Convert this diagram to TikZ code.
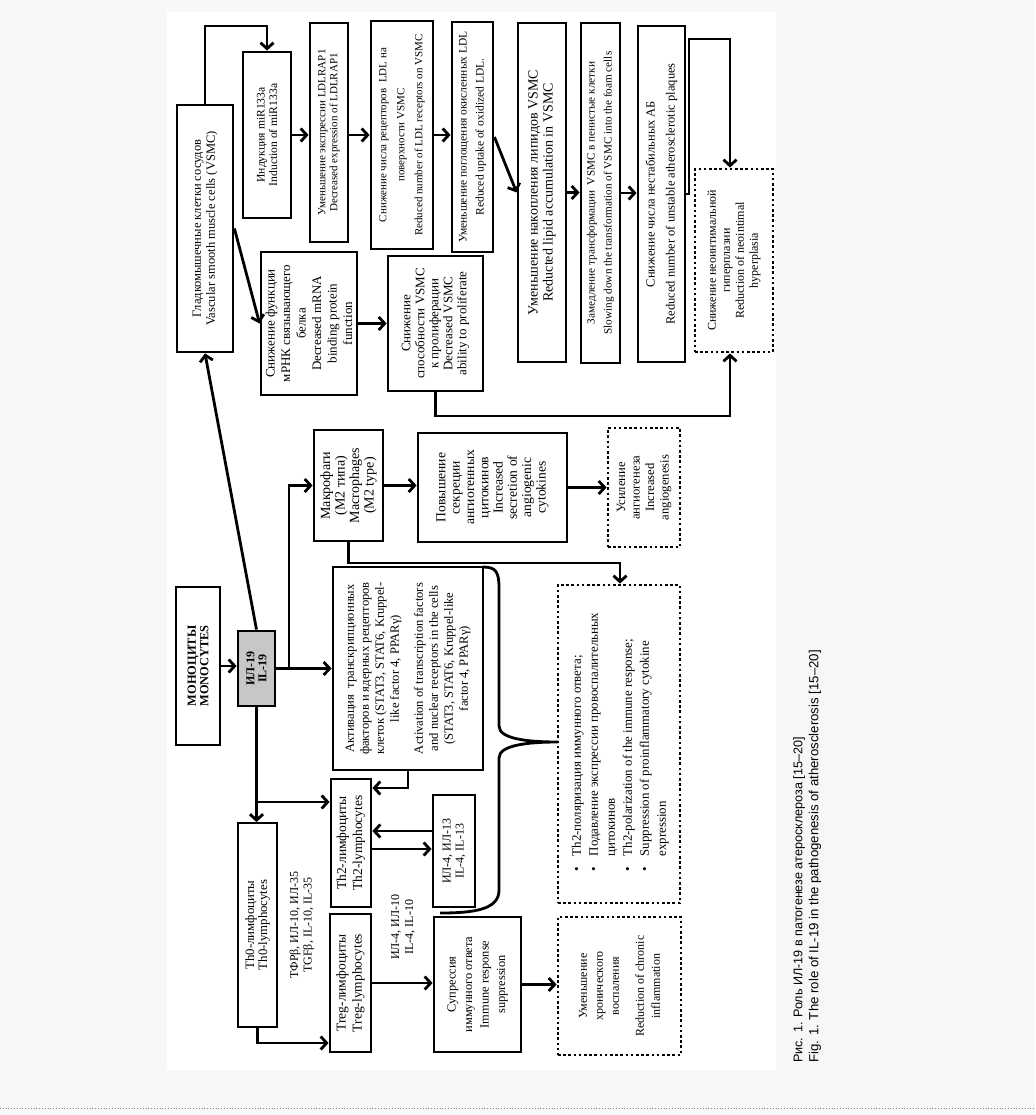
\documentclass[tikz,border=0pt]{standalone}
\usepackage{fontspec}
\setmainfont{Liberation Serif}
\newfontfamily\capfont{Liberation Sans}
\usetikzlibrary{arrows.meta,calc}
\newcommand\fs[2]{\fontsize{#1}{#2}\selectfont}
\newcommand\mkbox[6]{\node[#1,minimum width={(#5)-(#3)},minimum height={(#6)-(#4)}] (#2) at ({((#3)+(#5))/2},{((#4)+(#6))/2}) {};}
\begin{document}
\begin{tikzpicture}[x=1pt,y=-1pt,
  box/.style={draw,line width=2.8pt,rectangle,inner sep=0pt},
  tbox/.style={draw,line width=1.8pt,rectangle,inner sep=0pt},
  dbox/.style={draw,line width=2.8pt,dash pattern=on 2.6pt off 2.6pt,rectangle,inner sep=0pt},
  gbox/.style={box,fill=black!22},
  txt/.style={rotate=90,align=center,inner sep=0pt},
  arr/.style={line width=2.8pt,-{Straight Barb[length=6pt,width=13pt]}},
  ln/.style={line width=2.8pt},
]
\useasboundingbox (0,0) rectangle (1035,1115);
\fill[black!3] (0,0) rectangle (1035,1115);
\fill[white] (167,12) rectangle (776,1070);
\draw[black!50,line width=0.8pt,dotted] (0,1108) -- (1035,1108);

% boxes
\mkbox{box}{vsmc}{177}{105}{233}{352}
\mkbox{box}{ind}{243}{52}{291}{218}
\mkbox{box}{ldl}{310}{23}{348}{242}
\mkbox{box}{rec}{371}{21}{433}{249}
\mkbox{box}{upt}{452}{22}{493}{252}
\mkbox{box}{acc}{518}{23}{566}{362}
\mkbox{box}{foam}{581}{23}{620}{363}
\mkbox{box}{ab}{638}{26}{685}{362}
\mkbox{dbox}{neo}{695}{169}{773}{352}
\mkbox{box}{mrna}{261}{252}{357}{395}
\mkbox{box}{prol}{388}{256}{483}{391}
\mkbox{tbox}{mono}{176}{587}{220}{745}
\mkbox{gbox}{il19}{238}{631}{275}{706}
\mkbox{box}{mac}{314}{430}{383}{541}
\mkbox{box}{sec}{418}{433}{567}{542}
\mkbox{dbox}{ang}{608}{428}{680}{547}
\mkbox{box}{act}{333}{567}{483}{770}
\mkbox{dbox}{bul}{558}{585}{680}{903}
\mkbox{tbox}{th0}{238}{823}{277}{1027}
\mkbox{box}{th2}{331}{779}{371}{907}
\mkbox{box}{il4}{433}{795}{475}{907}
\mkbox{box}{treg}{330}{914}{371}{1052}
\mkbox{box}{sup}{434}{917}{521}{1052}
\mkbox{dbox}{chr}{558}{917}{681}{1055}

% texts
\node[txt,font=\fs{12.5}{14}] (vsmct) at (vsmc) {Гладкомышечные клетки сосудов\\Vascular smooth muscle cells (VSMC)};
\node[txt,font=\fs{11.6}{12.5}] (indt) at (ind) {Индукция miR133a\\Induction of miR133a};
\node[txt,font=\fs{11}{12}] (ldlt) at (ldl) {Уменьшение экспрессии LDLRAP1\\Decreased expression of LDLRAP1};
\node[txt,font=\fs{11}{18}] (rect) at (rec) {Снижение числа рецепторов\ \ LDL на\\поверхности VSMC\\Reduced number of LDL receptors on VSMC};
\node[txt,font=\fs{11.5}{17}] (uptt) at (upt) {Уменьшение поглощения окисленных LDL\\Reduced uptake of oxidized LDL.};
\node[txt,font=\fs{14}{15}] (acct) at (acc) {Уменьшение накопления липидов VSMC\\Reducted lipid accumulation in VSMC};
\node[txt,font=\fs{11.2}{17}] (foamt) at (foam) {Замедление трансформации\ \ VSMC в пенистые клетки\\Slowing down the transformation of VSMC into the foam cells};
\node[txt,font=\fs{12.5}{20}] (abt) at (ab) {Снижение числа нестабильных АБ\\Reduced number of unstable atherosclerotic plaques};
\node[txt,font=\fs{12}{14}] (neot) at (neo) {Снижение неоинтимальной\\гиперплазии\\Reduction of neointimal\\hyperplasia};
\node[txt,font=\fs{13}{15.5}] (mrnat) at (mrna) {Снижение функции\\мРНК связывающего\\белка\\Decreased mRNA\\binding protein\\function};
\node[txt,font=\fs{13}{14}] (prolt) at (prol) {Снижение\\способности VSMC\\к пролиферации\\Decreased VSMC\\ability to proliferate};
\node[txt,font=\bfseries\fs{12.4}{12.5}] (monot) at (mono) {МОНОЦИТЫ\\MONOCYTES};
\node[txt,font=\bfseries\fs{12}{12}] (il19t) at (il19) {ИЛ-19\\IL-19};
\node[txt,font=\fs{14}{14.5}] (mact) at (mac) {Макрофаги\\(М2 типа)\\Macrophages\\(M2 type)};
\node[txt,font=\fs{13.6}{14.3}] (sect) at (sec) {Повышение\\секреции\\ангиогенных\\цитокинов\\Increased\\secretion of\\angiogenic\\cytokines};
\node[txt,font=\fs{12.6}{14.5}] (angt) at (ang) {Усиление\\ангиогенеза\\Increased\\angiogenesis};
\node[txt,font=\fs{12.6}{15}] (actt) at (act) {Активация\ \ транскрипционных\\факторов и ядерных рецепторов\\клеток (STAT3, STAT6, Kruppel-\\like factor 4, PPARγ)\\[9pt]Activation of transcription factors\\and nuclear receptors in the cells\\(STAT3, STAT6, Kruppel-like\\factor 4, PPARγ)};
\node[txt,font=\fs{12.8}{13}] (th0t) at (th0) {Th0-лимфоциты\\Th0-lymphocytes};
\node[txt,font=\fs{13.5}{16}] (th2t) at (th2) {Th2-лимфоциты\\Th2-lymphocytes};
\node[txt,font=\fs{12}{13}] (il4t) at (il4) {ИЛ-4, ИЛ-13\\IL-4, IL-13};
\node[txt,font=\fs{13.5}{16}] (tregt) at (treg) {Treg-лимфоциты\\Treg-lymphocytes};
\node[txt,font=\fs{12.4}{16.5}] (supt) at (sup) {Супрессия\\иммунного ответа\\Immune response\\suppression};
\node[txt,font=\fs{12}{16}] (chrt) at (chr) {Уменьшение\\хронического\\воспаления\\[9pt]Reduction of chronic\\inflammation};
\node[txt,font=\fs{12}{13.5}] (tgf) at (302,925) {ТФРβ, ИЛ-10, ИЛ-35\\TGFβ, IL-10, IL-35};
\node[txt,font=\fs{12}{14}] (il410) at (403,927) {ИЛ-4, ИЛ-10\\IL-4, IL-10};
\node[rotate=90,anchor=west,inner sep=0pt,font=\fs{12.9}{17}] (bult) at (620,872) {%
\begin{tabular}{@{}l@{\hspace{11pt}}l@{}}
\textbullet & Th2-поляризация иммунного ответа;\\
\textbullet & Подавление экспрессии провоспалительных\\
 & цитокинов\\
\textbullet & Th2-polarization of the immune response;\\
\textbullet & Suppression of proinflammatory cytokine\\
 & expression
\end{tabular}};

% caption
\node[rotate=90,anchor=west,inner sep=0pt,font=\capfont\fs{12.6}{15}] (cap1) at (799,1063) {Рис. 1. Роль ИЛ-19 в патогенезе атеросклероза [15–20]};
\node[rotate=90,anchor=west,inner sep=0pt,font=\capfont\fs{13.2}{15}] (cap2) at (815,1063) {Fig. 1. The role of IL-19 in the pathogenesis of atherosclerosis [15–20]};

% connectors
\coordinate (c1) at (205,26);
\draw[arr] (vsmc.north) -- (c1) -| (ind.north);
\draw[arr] (ind.east) -- (ind.east -| ldl.west);
\draw[arr] (ldl.east |- ind.east) -- (rec.west |- ind.east);
\draw[arr] (rec.east) -- (rec.east -| upt.west);
\draw[arr] (upt.east) -- (acc.west);
\draw[arr] (acc.east) -- (acc.east -| foam.west);
\draw[arr] (foam.east) -- (foam.east -| ab.west);
\coordinate (c2) at (689,39);
\coordinate (c3) at (730,39);
\draw[arr] (ab.east) -- (ab.east -| c2) -- (c2) -- (c3) -- (c3 |- neo.north);
\draw[arr] (vsmc.east) -- (mrna.west);
\draw[arr] (mrna.east) -- (mrna.east -| prol.west);
\coordinate (c4) at (730,416);
\draw[arr] (prol.south) |- (c4) -- (c4 |- neo.south);
\draw[arr] (mono.east) -- (mono.east -| il19.west);
\draw[arr] (il19.north) -- (vsmc.south);
\draw[arr] (il19.east) -- (il19.east -| act.west);
\coordinate (c9) at (289,668.5);
\draw[arr] (c9) |- (mac.west);
\draw[arr] (mac.east) -- (mac.east -| sec.west);
\draw[arr] (sec.east) -- (sec.east -| ang.west);
\coordinate (c5) at (620,563);
\draw[arr] (mac.south) |- (c5) -- (c5 |- bul.north);
\draw[arr] (il19.south) -- (il19.south |- th0.north);
\coordinate (c6) at (256.5,802);
\draw[arr] (c6) -- (c6 -| th2.west);
\coordinate (c7) at (408,788);
\draw[arr] (act.south) -- (c7) -- (c7 -| th2.east);
\coordinate (c10) at (454,831);
\coordinate (c11) at (454,849);
\draw[arr] (c10 -| il4.west) -- (c10 -| th2.east);
\draw[arr] (c11 -| th2.east) -- (c11 -| il4.west);
\coordinate (c8) at (258,1043);
\draw[arr] (th0.south) |- (c8 -| treg.west);
\draw[arr] (treg.east) -- (treg.east -| sup.west);
\draw[arr] (sup.east) -- (sup.east -| chr.west);

% brace
\draw[ln] (483,567) .. controls (496,567) and (499,572) .. (499,588) -- (499,726) .. controls (499,739) and (528,742) .. (558,742) .. controls (528,742) and (499,745) .. (499,758) -- (499,890) .. controls (499,909) and (476,913) .. (440,913);
\end{tikzpicture}
\end{document}
